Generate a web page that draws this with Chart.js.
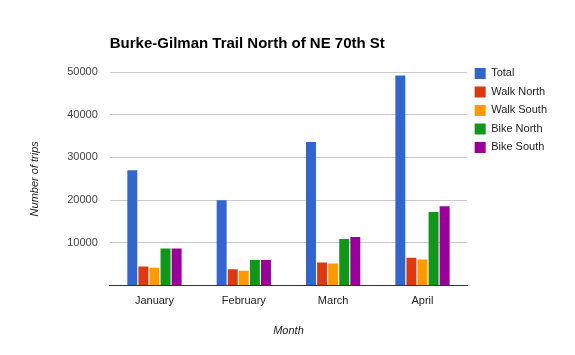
<!DOCTYPE html>
<html>
<head>
<meta charset="utf-8">
<script src="https://cdn.jsdelivr.net/npm/chart.js@4.4.0/dist/chart.umd.min.js"></script>
<style>
    html, body { margin: 0; padding: 0; background: #fff; }
</style>
</head>
<body>
<canvas id="chart" width="575" height="355"></canvas>
<script>
// Данные по месяцам
const months = ['January', 'February', 'March', 'April'];
const total = [27000, 20000, 33600, 49200];
const walkNorth = [4500, 3800, 5400, 6500];
const walkSouth = [4200, 3500, 5150, 6100];
const bikeNorth = [8700, 6000, 10900, 17200];
const bikeSouth = [8700, 6000, 11400, 18600];
const yTicks = [10000, 20000, 30000, 40000, 50000];

const font = 'Arial, "Liberation Sans", sans-serif';

function makeDataset(label, data, color) {
    return {
        label: label,
        data: data,
        backgroundColor: color,
        borderWidth: 0,
        barPercentage: 0.9,
        categoryPercentage: 0.62
    };
}

const ctx = document.getElementById('chart').getContext('2d');

new Chart(ctx, {
    type: 'bar',
    data: {
        labels: months,
        datasets: [
            makeDataset('Total', total, '#3366cc'),
            makeDataset('Walk North', walkNorth, '#dc3912'),
            makeDataset('Walk South', walkSouth, '#ff9900'),
            makeDataset('Bike North', bikeNorth, '#109618'),
            makeDataset('Bike South', bikeSouth, '#990099')
        ]
    },
    options: {
        responsive: false,
        animation: false,
        layout: {
            padding: { left: 10, right: 18, top: 0, bottom: 17 }
        },
        plugins: {
            title: {
                display: true,
                text: 'Burke-Gilman Trail North of NE 70th St',
                align: 'start',
                fullSize: false,
                color: '#000',
                font: { family: font, size: 15, weight: 'bold' },
                padding: { top: 35, bottom: 19 }
            },
            legend: {
                position: 'right',
                align: 'start',
                title: {
                    display: true,
                    text: '',
                    font: { size: 12 },
                    padding: { top: 0, bottom: 46 }
                },
                labels: {
                    boxWidth: 11,
                    boxHeight: 11,
                    padding: 7.5,
                    color: '#222',
                    font: { family: font, size: 11 }
                }
            },
            tooltip: { enabled: false }
        },
        scales: {
            x: {
                grid: { display: false },
                border: { display: true, color: '#333', width: 1 },
                ticks: {
                    color: '#222',
                    font: { family: font, size: 11 },
                    padding: 1
                },
                title: {
                    display: true,
                    text: 'Month',
                    color: '#222',
                    font: { family: font, size: 11, style: 'italic' },
                    padding: { top: 16, bottom: 0 }
                }
            },
            y: {
                min: 0,
                max: 50000,
                afterBuildTicks: (scale) => {
                    scale.ticks = [0, ...yTicks].map(v => ({ value: v }));
                },
                grid: {
                    color: (c) => c.tick && c.tick.value === 0 ? 'rgba(0,0,0,0)' : '#ccc',
                    drawTicks: false
                },
                border: { display: false },
                ticks: {
                    color: '#444',
                    font: { family: font, size: 11 },
                    padding: 12,
                    callback: (v) => v === 0 ? '' : String(v)
                },
                title: {
                    display: true,
                    text: 'Number of trips',
                    color: '#222',
                    font: { family: font, size: 11, style: 'italic' },
                    padding: { top: 18, bottom: 14 }
                }
            }
        }
    }
});
</script>
</body>
</html>
